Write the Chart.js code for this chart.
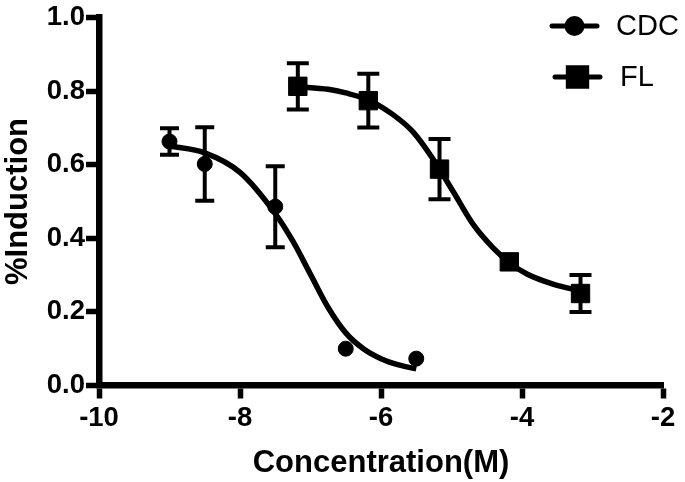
<!DOCTYPE html>
<html>
<head>
<meta charset="utf-8">
<script src="https://cdn.jsdelivr.net/npm/chart.js@4.4.1/dist/chart.umd.min.js"></script>
<style>
  html, body { margin: 0; padding: 0; background: #fff; }
  #chart { display: block; }
</style>
</head>
<body>
<canvas id="chart" width="685" height="482"></canvas>
<script>
// ---- data (log concentration, fraction induced) ----
const cdcX   = [-9, -8.5, -7.5, -6.5, -5.5];
const cdcY   = [0.663, 0.602, 0.486, 0.100, 0.073];
const cdcErr = [0.036, 0.100, 0.110, 0, 0];

const flX   = [-7.18, -6.18, -5.17, -4.18, -3.17];
const flY   = [0.813, 0.774, 0.588, 0.336, 0.250];
const flErr = [0.063, 0.073, 0.082, 0, 0.050];

// fitted curves
const cdcFitX = [-9, -8.5, -8, -7.5, -7.25, -7, -6.75, -6.5, -6.25, -6, -5.75, -5.5];
const cdcFitY = [0.651, 0.632, 0.579, 0.467, 0.392, 0.302, 0.212, 0.143, 0.100, 0.073, 0.056, 0.045];

const flFitX = [-7.18, -6.75, -6.5, -6.18, -5.83, -5.54, -5.26, -4.97, -4.69, -4.41, -4.18, -3.93, -3.55, -3.17];
const flFitY = [0.812, 0.805, 0.795, 0.776, 0.736, 0.688, 0.615, 0.525, 0.437, 0.374, 0.334, 0.303, 0.275, 0.257];

const xTicks = [-10, -8, -6, -4, -2];
const yTicks = [0, 0.2, 0.4, 0.6, 0.8, 1.0];

const FONT = "'Liberation Sans', Arial, Helvetica, sans-serif";
const pts = (xs, ys) => xs.map((x, i) => ({ x, y: ys[i] }));

/* error bars, drawn through the chart scales */
const errorBars = {
  id: 'errorBars',
  beforeDatasetsDraw(chart) {
    const { ctx, scales: { x, y } } = chart;
    ctx.save();
    ctx.strokeStyle = '#000';
    ctx.lineWidth = 4;
    ctx.lineCap = 'butt';
    chart.data.datasets.forEach(ds => {
      if (!ds.errors) return;
      ds.data.forEach((p, i) => {
        const e = ds.errors[i];
        if (!e) return;
        const px = x.getPixelForValue(p.x);
        const top = y.getPixelForValue(p.y + e);
        const bot = y.getPixelForValue(p.y - e);
        const w = ds.capWidth / 2;
        ctx.beginPath();
        ctx.moveTo(px, top); ctx.lineTo(px, bot);
        ctx.moveTo(px - w, top); ctx.lineTo(px + w, top);
        ctx.moveTo(px - w, bot); ctx.lineTo(px + w, bot);
        ctx.stroke();
      });
    });
    ctx.restore();
  }
};

/* legend at top right: line with marker, then label */
const sideLegend = {
  id: 'sideLegend',
  afterDraw(chart) {
    const ctx = chart.ctx;
    const rows = [
      { y: 26, x0: 552, x1: 597, tx: 616 },
      { y: 77, x0: 555, x1: 600, tx: 620 },
    ];
    ctx.save();
    chart.data.datasets.filter(d => d.errors).forEach((ds, i) => {
      const r = rows[i];
      ctx.strokeStyle = '#000';
      ctx.lineWidth = 5;
      ctx.lineCap = 'round';
      ctx.beginPath();
      ctx.moveTo(r.x0, r.y); ctx.lineTo(r.x1, r.y);
      ctx.stroke();
      Chart.helpers.drawPoint(ctx, {
        pointStyle: ds.pointStyle, radius: ds.pointRadius, borderWidth: 1, rotation: 0
      }, (r.x0 + r.x1) / 2, r.y);
      ctx.fillStyle = '#000';
      ctx.font = '29px ' + FONT;
      ctx.textAlign = 'left';
      ctx.textBaseline = 'middle';
      ctx.fillText(ds.label, r.tx, r.y + 1);
    });
    ctx.restore();
  }
};

new Chart(document.getElementById('chart'), {
  type: 'line',
  data: {
    datasets: [
      {
        label: 'CDC',
        data: pts(cdcX, cdcY),
        errors: cdcErr,
        capWidth: 19,
        showLine: false,
        pointStyle: 'circle',
        pointRadius: 7.5,
        pointBorderWidth: 1,
        pointBackgroundColor: '#000',
        pointBorderColor: '#000',
      },
      {
        label: 'FL',
        data: pts(flX, flY),
        errors: flErr,
        capWidth: 22,
        showLine: false,
        pointStyle: 'rect',
        pointRadius: 13,
        pointBorderWidth: 1,
        pointBackgroundColor: '#000',
        pointBorderColor: '#000',
      },
      {
        label: 'CDC fit',
        data: pts(cdcFitX, cdcFitY),
        borderColor: '#000',
        borderWidth: 5.5,
        pointRadius: 0,
        cubicInterpolationMode: 'monotone',
      },
      {
        label: 'FL fit',
        data: pts(flFitX, flFitY),
        borderColor: '#000',
        borderWidth: 5.5,
        pointRadius: 0,
        cubicInterpolationMode: 'monotone',
      },
    ],
  },
  options: {
    responsive: false,
    animation: false,
    layout: { padding: { top: 12.5, right: 22, left: 0, bottom: 0 } },
    plugins: {
      legend: { display: false },
      tooltip: { enabled: false },
    },
    scales: {
      x: {
        type: 'linear',
        min: -10,
        max: -2,
        afterBuildTicks: s => { s.ticks = xTicks.map(v => ({ value: v })); },
        afterFit: s => { s.height = 96.5; },
        border: { display: true, color: '#000', width: 6.5 },
        grid: { drawOnChartArea: false, drawTicks: true, tickLength: 13, tickWidth: 5.5, tickColor: '#000' },
        ticks: {
          color: '#000',
          padding: 3,
          maxRotation: 0,
          font: { family: FONT, size: 27.5, weight: 'bold' },
          callback: v => String(v),
        },
        title: {
          display: true,
          text: 'Concentration(M)',
          color: '#000',
          padding: { top: 0, bottom: 0 },
          font: { family: FONT, size: 31, weight: 'bold' },
        },
      },
      y: {
        type: 'linear',
        min: 0,
        max: 1.0,
        afterBuildTicks: s => { s.ticks = yTicks.map(v => ({ value: v })); },
        afterFit: s => { s.width = 99; },
        border: { display: true, color: '#000', width: 6.5 },
        grid: { drawOnChartArea: false, drawTicks: true, tickLength: 13, tickWidth: 5.5, tickColor: '#000' },
        ticks: {
          color: '#000',
          padding: 1,
          font: { family: FONT, size: 27.5, weight: 'bold' },
          callback: v => v.toFixed(1),
        },
        title: {
          display: true,
          text: '%Induction',
          color: '#000',
          padding: { top: 0, bottom: 0 },
          font: { family: FONT, size: 31, weight: 'bold' },
        },
      },
    },
  },
  plugins: [errorBars, sideLegend],
});
</script>
</body>
</html>
